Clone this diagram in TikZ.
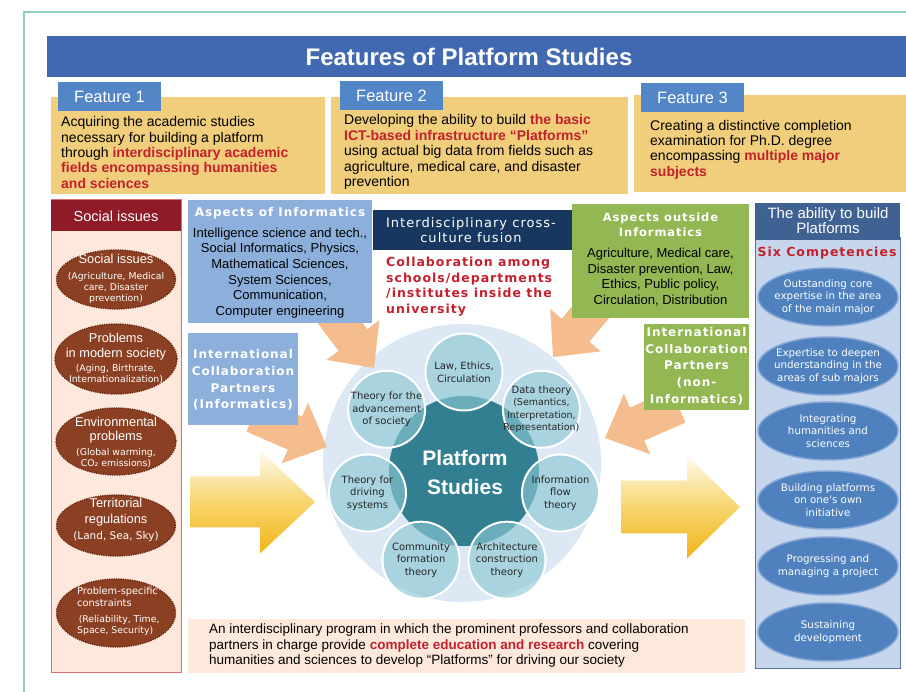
\documentclass[tikz,border=0pt]{standalone}
\usepackage{fontspec}
\setmainfont{Liberation Sans}
\newfontfamily\vfont[LetterSpace=8]{DejaVu Sans}
\newfontfamily\dvfont{DejaVu Sans}
\usepackage{xcolor}
\usepackage{tikz}
\usetikzlibrary{shapes.geometric}
\definecolor{framegreen}{HTML}{8FCDBD}
\definecolor{titleblue}{HTML}{4169B2}
\definecolor{labelblue}{HTML}{5286C6}
\definecolor{featyellow}{HTML}{F0CE7B}
\definecolor{keyred}{HTML}{C3202C}
\definecolor{issuered}{HTML}{8E1B25}
\definecolor{issuepink}{HTML}{FDE8DB}
\definecolor{issueline}{HTML}{D96F6E}
\definecolor{issuebrown}{HTML}{8C4023}
\definecolor{issuedot}{HTML}{6A2811}
\definecolor{infoblue}{HTML}{8DAFDC}
\definecolor{fusionnavy}{HTML}{17375E}
\definecolor{outgreen}{HTML}{93B753}
\definecolor{abilityblue}{HTML}{3F6293}
\definecolor{abilitypale}{HTML}{C6D6EC}
\definecolor{abilityline}{HTML}{5672A2}
\definecolor{competblue}{HTML}{4F81BE}
\definecolor{competrim}{HTML}{86A6D6}
\definecolor{hubpale}{HTML}{DCE8F4}
\definecolor{hubteal}{HTML}{327F92}
\definecolor{topicblue}{HTML}{8CC8D4}
\definecolor{flowpeach}{HTML}{F5BC8E}
\definecolor{goldtop}{HTML}{FFFBF0}
\definecolor{goldmid}{HTML}{F7D56E}
\definecolor{goldbot}{HTML}{F2B417}
\definecolor{notepeach}{HTML}{FDE9DB}
\newcommand{\fs}[2]{\fontsize{#1}{#2}\selectfont}
\newcommand{\hl}[1]{\textcolor{keyred}{\bfseries #1}}
\newcommand{\paren}{\dvfont\fs{9.3}{11}}
\newcommand{\tsmall}{\fs{9.5}{12}}
% block arrow: style, tip, angle, length, shaft half width, head half width, head length
\newcommand{\blockarrow}[7][]{%
  \path[#1,shift={#2},rotate=#3]
    (0,0) -- (-#7,#6) -- (-#7,#5) -- (-#4,#5)
    -- (-#4,-#5) -- (-#7,-#5) -- (-#7,-#6) -- cycle;}

\begin{document}
\begin{tikzpicture}[x=1pt,y=-1pt,
  box/.style={rectangle,inner sep=0pt,outer sep=0pt,anchor=north west},
  featlabel/.style={box,fill=labelblue,text=white,font=\fs{16.5}{18},
    minimum width=103,minimum height=29},
  feattext/.style={anchor=west,align=left,inner sep=0pt,font=\fs{14}{15.4}},
  issue/.style={ellipse,fill=issuebrown,draw=issuedot,densely dotted,
    line width=1.3pt,inner sep=0pt,minimum width=119},
  issuetext/.style={align=center,inner sep=0pt,text=white,font=\fs{12.8}{16}},
  compet/.style={ellipse,fill=competblue,draw=competrim,line width=1.5pt,
    minimum width=140,minimum height=58,inner sep=0pt},
  competext/.style={align=center,inner sep=0pt,text=white,font=\dvfont\fs{10.3}{12.8}},
  topic/.style={circle,fill=topicblue,fill opacity=0.63,draw=white,
    line width=2pt,minimum size=77,inner sep=0pt},
  topictext/.style={align=center,inner sep=0pt,text=black!85,font=\dvfont\fs{10}{12.6}},
  spacedhead/.style={align=center,inner sep=0pt,text=white,font=\vfont\bfseries\fs{12}{16.7}},
  bodytext/.style={align=center,inner sep=0pt,font=\fs{13}{15.6}},
  peach/.style={fill=flowpeach},
  gold/.style={top color=goldtop,bottom color=goldbot,middle color=goldmid}]
  \useasboundingbox (0,0) rectangle (906,692);
  \draw[framegreen,line width=1.5pt] (24,692) -- (24,12) -- (906,12);

  % title and the three features
  \node[box,fill=titleblue,minimum width=859,minimum height=41] (title) at (47,36) {};
  \node[text=white,font=\bfseries\fs{24}{28}] (titletext) at (469,57)
    {Features of Platform Studies};
  \node[box,fill=featyellow,minimum width=274,minimum height=97] (feat1) at (51,97) {};
  \node[box,fill=featyellow,minimum width=297,minimum height=97] (feat2) at (331,97) {};
  \node[box,fill=featyellow,minimum width=272,minimum height=97] (feat3) at (634,95) {};
  \node[featlabel] (lab1) at (58,82) {Feature 1};
  \node[featlabel] (lab2) at (340,81) {Feature 2};
  \node[featlabel] (lab3) at (641,83) {Feature 3};
  \node[feattext] (feat1text) at (61,152.5) {Acquiring the academic studies\\
    necessary for building a platform\\through \hl{interdisciplinary academic}\\
    \hl{fields encompassing humanities}\\\hl{and sciences}};
  \node[feattext] (feat2text) at (344,152) {Developing the ability to build \hl{the basic}\\
    \hl{ICT-based infrastructure “Platforms”}\\using actual big data from fields such as\\
    agriculture, medical care, and disaster\\prevention};
  \node[feattext] (feat3text) at (650,149.5) {Creating a distinctive completion\\
    examination for Ph.D. degree\\encompassing \hl{multiple major}\\\hl{subjects}};

  % platform circle and the arrows into it
  \node[circle,fill=hubpale,minimum size=278,inner sep=0pt] (hub) at (462,463) {};
  \node[circle,fill=hubteal,minimum size=150,inner sep=0pt] (core) at (464,471) {};
  \blockarrow[peach]{(374,368)}{-53}{80}{18}{33}{35}
  \blockarrow[peach]{(327,447)}{-23.5}{80}{18}{33}{35}
  \blockarrow[peach]{(553,357)}{-130}{80}{18}{33}{35}
  \blockarrow[peach]{(605,438)}{-156.5}{80}{18}{33}{35}
  \blockarrow[gold]{(315,502)}{0}{125}{25.5}{51.5}{55}
  \blockarrow[gold]{(740,507)}{0}{119}{26.5}{51.5}{53}
  \foreach \ang/\txt [count=\i] in {-90/{Law, Ethics,\\Circulation},
      -38.57/{Data theory\\\tsmall(Semantics,\\\tsmall Interpretation,\\\tsmall Representation)},
      12.86/{Information\\flow\\theory},
      64.29/{Architecture\\construction\\theory},
      115.71/{Community\\formation\\theory},
      167.14/{Theory for\\driving\\systems},
      218.57/{Theory for the\\advancement\\of society}}{
    \node[topic] (topic\i) at ([shift={(\ang:99)}]core.center) {};
    \node[topictext] (topictext\i) at (topic\i) {\txt};
  }
  \node[align=center,text=white,font=\bfseries\fs{21}{29}] (coretext) at (465,472)
    {Platform\\Studies};

  % social issues column
  \node[box,fill=issuepink,draw=issueline,line width=1pt,minimum width=130,
    minimum height=472] (social) at (51,200) {};
  \node[box,fill=issuered,minimum width=130,minimum height=31] (socialhead) at (51,200) {};
  \node[text=white,font=\fs{14.5}{16}] (socialtitle) at (116,216) {Social issues};
  \node[issue,minimum height=59] (iss1) at (116,279.5) {};
  \node[issue,minimum height=70,minimum width=122] (iss2) at (116,359) {};
  \node[issue,minimum height=67,minimum width=120] (iss3) at (116,441.5) {};
  \node[issue,minimum height=61] (iss4) at (116,525.5) {};
  \node[issue,minimum height=68] (iss5) at (116,613) {};
  \node[issuetext] (iss1text) at (116,279)
    {Social issues\\\paren(Agriculture, Medical\\[-5pt]\paren care, Disaster\\[-5pt]
    \paren prevention)};
  \node[issuetext] (iss2text) at (116,358)
    {Problems\\[-1pt]in modern society\\[-2pt]\paren(Aging, Birthrate,\\[-5pt]
    \paren Internationalization)};
  \node[issuetext] (iss3text) at (116,442)
    {Environmental\\[-2pt]problems\\[-1pt]\paren(Global warming,\\[-5pt]
    \paren CO₂ emissions)};
  \node[issuetext] (iss4text) at (116,520)
    {Territorial\\regulations\\\dvfont\fs{10.5}{12}(Land, Sea, Sky)};
  \node[issuetext,anchor=west,align=left,font=\dvfont\fs{9.8}{16}] (iss5text) at (77,611)
    {Problem-specific\\[-4pt]constraints\\\paren\,(Reliability, Time,\\[-5pt]
    \paren Space, Security)};

  % informatics side
  \node[box,fill=infoblue,minimum width=184,minimum height=123] (info) at (188,200) {};
  \node[spacedhead] (infohead) at (280,213) {Aspects of Informatics};
  \node[bodytext] (infotext) at (280,273) {Intelligence science and tech.,\\
    Social Informatics, Physics,\\Mathematical Sciences,\\System Sciences,\\
    Communication,\\Computer engineering};
  \node[box,fill=infoblue,minimum width=110,minimum height=92] (partin) at (188,333) {};
  \node[spacedhead] (partintext) at (243,380)
    {International\\Collaboration\\Partners\\(Informatics)};

  % fusion in the middle
  \node[box,fill=fusionnavy,minimum width=200,minimum height=40] (fusion) at (373,210) {};
  \node[align=center,inner sep=0pt,text=white,font=\vfont\fs{13}{15.5}] (fusiontext)
    at (471,230) {Interdisciplinary cross-\\culture fusion};
  \node[anchor=west,align=left,inner sep=0pt,text=keyred,font=\vfont\bfseries\fs{12.5}{15.7}]
    (collab) at (386,286.5) {Collaboration among\\schools/departments\\
    /institutes inside the\\university};

  % outside informatics
  \node[box,fill=outgreen,minimum width=177,minimum height=114] (outside) at (572,204) {};
  \node[spacedhead,font=\vfont\bfseries\fs{11.5}{15}] (outhead) at (660.5,224.5)
    {Aspects outside\\Informatics};
  \node[bodytext] (outtext) at (660.5,277) {Agriculture, Medical care,\\
    Disaster prevention, Law,\\Ethics, Public policy,\\Circulation, Distribution};
  \node[box,fill=outgreen,minimum width=105,minimum height=86] (partout) at (644,324) {};
  \node[spacedhead] (partouttext) at (696.5,366)
    {International\\Collaboration\\Partners\\(non-\\Informatics)};

  % ability column
  \node[box,fill=abilitypale,draw=abilityline,line width=1pt,minimum width=145,
    minimum height=430] (ability) at (755,238) {};
  \node[box,fill=abilityblue,minimum width=145,minimum height=37] (abilityhead) at (755,203) {};
  \node[align=center,inner sep=0pt,text=white,font=\fs{15}{15}] (abilitytitle)
    at (828,221) {The ability to build\\Platforms};
  \node[text=keyred,font=\vfont\bfseries\fs{12.5}{15}] (sixcomp) at (827,253)
    {Six Competencies};
  \foreach \cy/\txt [count=\i] in {297/{Outstanding core\\expertise in the area\\of the main major},
      366/{Expertise to deepen\\understanding in the\\areas of sub majors},
      431/{Integrating\\humanities and\\sciences},
      500/{Building platforms\\on one's own\\initiative},
      566/{Progressing and\\managing a project},
      632/{Sustaining\\development}}{
    \node[compet] (comp\i) at (828,\cy) {};
    \node[competext] (comptext\i) at (comp\i) {\txt};
  }

  % program note
  \node[box,fill=notepeach,minimum width=557,minimum height=54] (note) at (188,619) {};
  \node[anchor=west,align=left,inner sep=0pt,font=\fs{13.5}{15.5}] (notetext) at (209,646)
    {An interdisciplinary program in which the prominent professors and collaboration\\
    partners in charge provide \hl{complete education and research} covering\\
    humanities and sciences to develop “Platforms” for driving our society};
\end{tikzpicture}
\end{document}
